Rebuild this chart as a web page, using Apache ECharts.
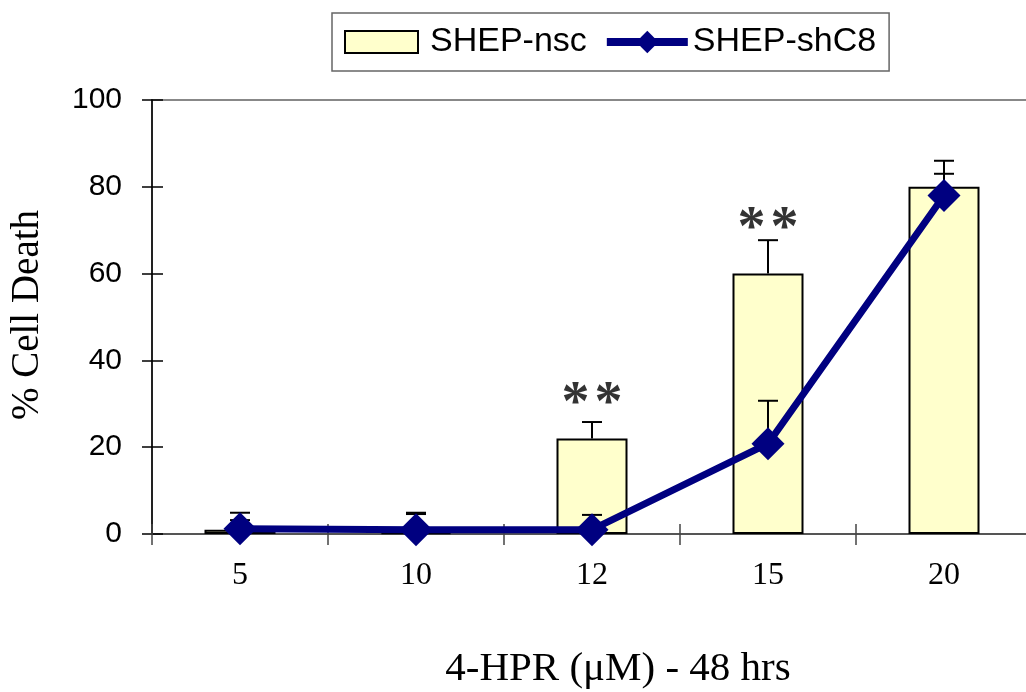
<!DOCTYPE html>
<html><head><meta charset="utf-8">
<script src="https://cdn.jsdelivr.net/npm/echarts@6/dist/echarts.min.js"></script>
<style>html,body{margin:0;padding:0;background:#fff}#c{width:1026px;height:692px}</style>
</head><body><div id="c"></div>
<script>
// ---- data ----
const categories = ['5', '10', '12', '15', '20'];
const nscValues = [1, 0.4, 22, 60, 80];
const nscErrors = [2.2, 4.2, 3.8, 7.7, 6];
const shc8Values = [1.2, 1, 1, 20.8, 78];
const shc8Errors = [3.7, 3.9, 3.4, 9.9, 5];
const sigCategories = ['12', '15'];
const sigLevels = [32, 72.3];
const yMin = 0, yMax = 100, yInterval = 20;
const xTitle = '4-HPR (\u03BCM) - 48 hrs';
const yTitle = '% Cell Death';

const chart = echarts.init(document.getElementById('c'), null, {renderer: 'canvas'});

function errorSeries(name, values, errors, z) {
  return {
    type: 'custom', name: name, z: z, silent: true,
    data: categories.map((c, i) => [i, values[i], values[i] + errors[i]]),
    encode: {x: 0, y: [1, 2]},
    renderItem: function (params, api) {
      const x = api.value(0);
      const lo = api.coord([x, api.value(1)]);
      const hi = api.coord([x, api.value(2)]);
      const hw = 10;
      return {type: 'group', children: [
        {type: 'line', shape: {x1: lo[0], y1: lo[1], x2: hi[0], y2: hi[1]}, style: {stroke: '#000', lineWidth: 2}},
        {type: 'line', shape: {x1: hi[0] - hw, y1: hi[1], x2: hi[0] + hw, y2: hi[1]}, style: {stroke: '#000', lineWidth: 2}}
      ]};
    }
  };
}

const option = {
  animation: false,
  backgroundColor: '#fff',
  grid: {left: 152, top: 100, width: 880, bottom: 158, outerBoundsMode: 'none', containLabel: false,
         show: true, borderColor: '#888', borderWidth: 2, backgroundColor: 'transparent'},
  legend: {
    left: 332, top: 13, orient: 'horizontal',
    padding: [12, 13, 12, 11], itemGap: 16, itemWidth: 81, itemHeight: 28,
    borderColor: '#666', borderWidth: 1.5,
    textStyle: {fontFamily: 'Liberation Sans', fontSize: 34, color: '#000'},
    data: [
      {name: 'SHEP-nsc', icon: 'path://M0,0M81,28M1,3L74,3L74,25L1,25Z'},
      {name: 'SHEP-shC8', lineStyle: {width: 8, color: '#000080'}}
    ]
  },
  xAxis: [{
    type: 'category', data: categories, position: 'bottom',
    axisLine: {lineStyle: {color: '#444', width: 1.5}},
    axisTick: {show: true, inside: false, length: 11, lineStyle: {color: '#444', width: 1.5}},
    axisLabel: {fontFamily: 'Liberation Serif', fontSize: 32, color: '#000', margin: 26},
    splitLine: {show: false}
  }, {
    type: 'category', data: categories, position: 'bottom',
    axisLine: {show: false},
    axisTick: {show: true, inside: true, length: 10, lineStyle: {color: '#444', width: 1.5}},
    axisLabel: {show: false}, splitLine: {show: false}
  }],
  yAxis: [{
    type: 'value', min: yMin, max: yMax, interval: yInterval, position: 'left',
    axisLine: {show: true, lineStyle: {color: '#000', width: 1.5}},
    axisTick: {show: true, inside: false, length: 10, lineStyle: {color: '#000', width: 1.5}},
    axisLabel: {fontFamily: 'Liberation Sans', fontSize: 30, color: '#000', margin: 30},
    splitLine: {show: false}
  }, {
    type: 'value', min: yMin, max: yMax, interval: yInterval, position: 'left',
    axisLine: {show: false},
    axisTick: {show: true, inside: true, length: 11, lineStyle: {color: '#000', width: 1.5}},
    axisLabel: {show: false}, splitLine: {show: false}
  }],
  graphic: [
    {type: 'text', x: 618, y: 669, style: {text: xTitle, font: '41px "Liberation Serif"', fill: '#000', textAlign: 'center', textVerticalAlign: 'middle'}},
    {type: 'text', x: 28, y: 315, rotation: Math.PI / 2, style: {text: yTitle, font: '39px "Liberation Serif"', fill: '#000', textAlign: 'center', textVerticalAlign: 'middle'}}
  ],
  series: [
    {
      name: 'SHEP-nsc', type: 'bar', data: nscValues, barWidth: 71, z: 2,
      itemStyle: {color: '#FFFFCC', borderColor: '#000', borderWidth: 2}
    },
    errorSeries('nscErr', nscValues, nscErrors, 3),
    errorSeries('shc8Err', shc8Values, shc8Errors, 3),
    {
      name: 'SHEP-shC8', type: 'line', data: shc8Values, z: 5,
      symbol: 'diamond', symbolSize: 33,
      lineStyle: {color: '#000080', width: 7},
      itemStyle: {color: '#000080'}
    },
    {
      name: 'sig', type: 'scatter', z: 6, symbolSize: 0, silent: true,
      data: sigCategories.map((c, i) => [c, sigLevels[i]]),
      label: {
        show: true, position: 'inside', offset: [0, 10],
        formatter: '{a|*}{g|}{a|*}',
        rich: {
          a: {fontFamily: 'Liberation Serif', fontWeight: 'bold', fontSize: 56, color: '#000'},
          g: {width: 5}
        }
      }
    }
  ]
};
chart.setOption(option);
</script>
</body></html>
